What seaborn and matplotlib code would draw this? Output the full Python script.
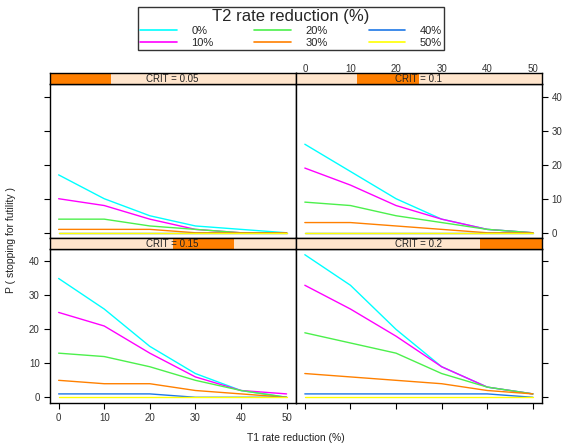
import numpy as np
import pandas as pd
import matplotlib
matplotlib.use("Agg")
import matplotlib.pyplot as plt
from matplotlib.lines import Line2D
from matplotlib.patches import Rectangle
import seaborn as sns

# ---------------- data ----------------
t1 = [0, 10, 20, 30, 40, 50]
t2_levels = ["0%", "10%", "20%", "30%", "40%", "50%"]
crit_levels = ["0.05", "0.1", "0.15", "0.2"]

# P(stopping for futility) per CRIT, per T2 level, over T1
crit_005 = {
    "0%":  [17, 10, 5, 2, 1, 0],
    "10%": [10, 8, 4, 1, 0, 0],
    "20%": [4, 4, 2, 1, 0, 0],
    "30%": [1, 1, 1, 0, 0, 0],
    "40%": [0, 0, 0, 0, 0, 0],
    "50%": [0, 0, 0, 0, 0, 0],
}
crit_010 = {
    "0%":  [26, 18, 10, 4, 1, 0],
    "10%": [19, 14, 8, 4, 1, 0],
    "20%": [9, 8, 5, 3, 1, 0],
    "30%": [3, 3, 2, 1, 0, 0],
    "40%": [0, 0, 0, 0, 0, 0],
    "50%": [0, 0, 0, 0, 0, 0],
}
crit_015 = {
    "0%":  [35, 26, 15, 7, 2, 0],
    "10%": [25, 21, 13, 6, 2, 1],
    "20%": [13, 12, 9, 5, 2, 0],
    "30%": [5, 4, 4, 2, 1, 0],
    "40%": [1, 1, 1, 0, 0, 0],
    "50%": [0, 0, 0, 0, 0, 0],
}
crit_020 = {
    "0%":  [42, 33, 20, 9, 3, 1],
    "10%": [33, 26, 18, 9, 3, 1],
    "20%": [19, 16, 13, 7, 3, 1],
    "30%": [7, 6, 5, 4, 2, 1],
    "40%": [1, 1, 1, 1, 1, 0],
    "50%": [0, 0, 0, 0, 0, 0],
}
panels = {"0.05": crit_005, "0.1": crit_010, "0.15": crit_015, "0.2": crit_020}

colors = ["#00FFFF", "#FF00FF", "#4CF04C", "#FF8000", "#1E78E6", "#FFFF00"]

rows = []
for c, d in panels.items():
    for lev in t2_levels:
        for x, y in zip(t1, d[lev]):
            rows.append({"CRIT": c, "T2": lev, "T1": x, "P": y})
df = pd.DataFrame(rows)

# ---------------- figure ----------------
W, H = 564, 448
sns.set_style("white")
plt.rcParams["font.family"] = ["Liberation Sans", "DejaVu Sans"]
fig = plt.figure(figsize=(W / 100, H / 100), dpi=100)

def rect(x0, y0, x1, y1):
    return [x0 / W, 1 - y1 / H, (x1 - x0) / W, (y1 - y0) / H]

xl, xm, xr = 49.5, 295.7, 542.0
layout = {
    "0.05": (xl, xm, 73.5, 84.0, 238.5, "TL"),
    "0.1":  (xm, xr, 73.5, 84.0, 238.5, "TR"),
    "0.15": (xl, xm, 238.5, 249.0, 403.0, "BL"),
    "0.2":  (xm, xr, 238.5, 249.0, 403.0, "BR"),
}
pal = dict(zip(t2_levels, colors))
tick_col = "#333333"

for i, c in enumerate(crit_levels):
    x0, x1, ys, yp, yb, pos = layout[c]
    ax = fig.add_axes(rect(x0, yp, x1, yb))
    sns.lineplot(data=df[df["CRIT"] == c], x="T1", y="P", hue="T2",
                 hue_order=t2_levels, palette=pal, ax=ax, legend=False,
                 linewidth=1.0, estimator=None, sort=False)
    ax.set_xlim(-2.0, 52.0)
    ax.set_ylim(-1.68, 43.68)
    ax.set_xticks(t1)
    ax.set_yticks([0, 10, 20, 30, 40])
    ax.set_xlabel("")
    ax.set_ylabel("")
    for s in ax.spines.values():
        s.set_color("black")
        s.set_linewidth(1.0)
        s.set_visible(True)
    top = pos in ("TL", "TR")
    left = pos in ("TL", "BL")
    ax.tick_params(axis="both", direction="out", length=4, width=0.8,
                   colors="black", labelcolor=tick_col, labelsize=7, pad=3)
    ax.tick_params(axis="x", top=top, bottom=not top,
                   labeltop=(pos == "TR"), labelbottom=(pos == "BL"))
    ax.tick_params(axis="y", left=left, right=not left,
                   labelleft=(pos == "BL"), labelright=(pos == "TR"))

    # strip
    sax = fig.add_axes(rect(x0, ys, x1, yp))
    sax.set_xlim(0, 1)
    sax.set_ylim(0, 1)
    sax.add_patch(Rectangle((0, 0), 1, 1, facecolor="#FFE5CC", edgecolor="none"))
    sax.add_patch(Rectangle((i / 4, 0), 0.25, 1, facecolor="#FF7F00", edgecolor="none"))
    sax.text(0.5, 0.45, f"CRIT = {c}", ha="center", va="center",
             fontsize=7, color="#222222")
    sax.set_xticks([])
    sax.set_yticks([])
    for s in sax.spines.values():
        s.set_color("black")
        s.set_linewidth(1.0)
        s.set_visible(True)

# axis titles
fig.text(11 / W, 1 - 240 / H, "P ( stopping for futility )", rotation=90,
         ha="center", va="center", fontsize=7.5, color="#222222")
fig.text(296 / W, 1 - 438 / H, "T1 rate reduction (%)", ha="center",
         va="center", fontsize=7.5, color="#222222")

# legend
handles = [Line2D([0], [0], color=col, lw=1.2) for col in colors]
leg = fig.legend(handles, t2_levels, title="T2 rate reduction (%)", ncol=3,
                 loc="upper left", bbox_to_anchor=rect(138, 7, 444, 50),
                 mode="expand", frameon=True, fancybox=False,
                 fontsize=8, title_fontsize=12, handlelength=3.3,
                 handletextpad=1.3, borderpad=0.2, labelspacing=0.15,
                 columnspacing=1.0, borderaxespad=0.0)
leg.get_frame().set_edgecolor("black")
leg.get_frame().set_linewidth(1.0)

fig.savefig("out.png", dpi=100)
